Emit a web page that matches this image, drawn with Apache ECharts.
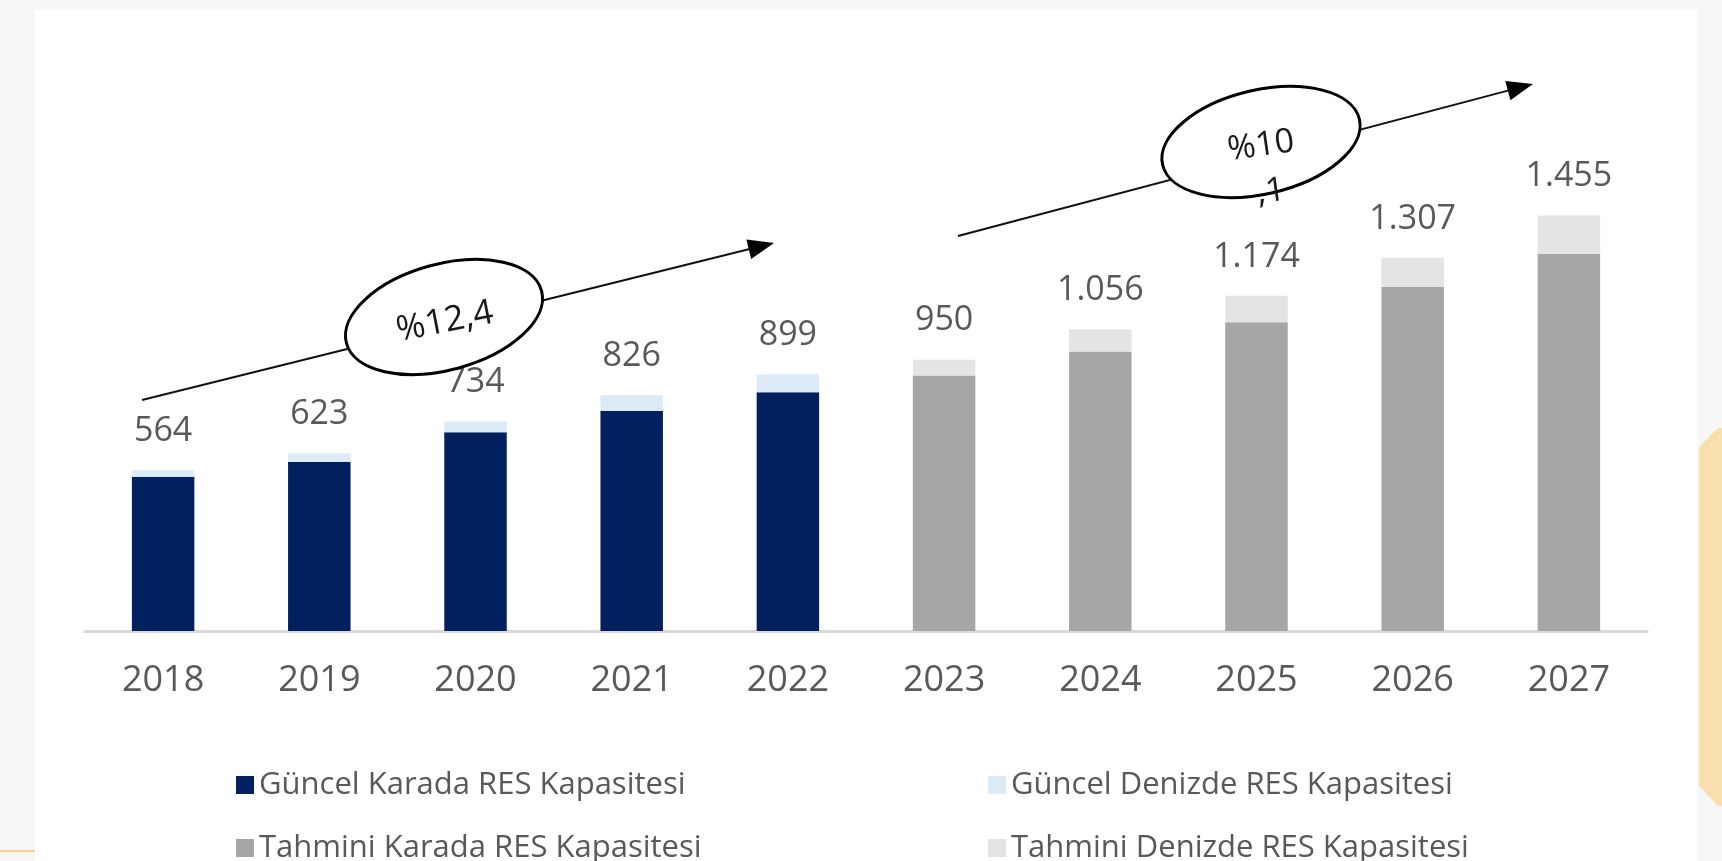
<!DOCTYPE html>
<html>
<head>
<meta charset="utf-8">
<style>
  html, body { margin: 0; padding: 0; background: #f7f7f7; }
  #chart { width: 1722px; height: 861px; }
</style>
<script src="https://cdn.jsdelivr.net/npm/echarts@6/dist/echarts.min.js"></script>
</head>
<body>
<div id="chart"></div>
<script>
// ---- data ----
const years = ['2018', '2019', '2020', '2021', '2022', '2023', '2024', '2025', '2026', '2027'];
const guncelKarada   = [540, 592, 696, 771, 836, null, null, null, null, null];
const guncelDenizde  = [24, 31, 38, 55, 63, null, null, null, null, null];
const tahminiKarada  = [null, null, null, null, null, 895, 979, 1081, 1205, 1321];
const tahminiDenizde = [null, null, null, null, null, 55, 77, 93, 102, 134];
const seriesNames = ['Güncel Karada RES Kapasitesi', 'Güncel Denizde RES Kapasitesi',
                     'Tahmini Karada RES Kapasitesi', 'Tahmini Denizde RES Kapasitesi'];
const cagrLabels = ['%12,4', '%10', ',1'];

// ---- helpers ----
function fmtTR(v) {
  const s = String(Math.round(v));
  return s.replace(/\B(?=(\d{3})+(?!\d))/g, '.');
}
const FONT = '"Open Sans", "Liberation Sans", sans-serif';
const TXT = '#595959';

function arrow(x1, y1, x2, y2) {
  const dx = x2 - x1, dy = y2 - y1, L = Math.sqrt(dx * dx + dy * dy);
  const ux = dx / L, uy = dy / L, px = -uy, py = ux;
  const len = 26, hw = 10;
  const bx = x2 - ux * len, by = y2 - uy * len;
  return [
    { type: 'line', z: 50, shape: { x1: x1, y1: y1, x2: bx + ux * 2, y2: by + uy * 2 },
      style: { stroke: '#111', lineWidth: 2 } },
    { type: 'polygon', z: 50, shape: { points: [[x2, y2], [bx + px * hw, by + py * hw], [bx - px * hw, by - py * hw]] },
      style: { fill: '#000' } }
  ];
}
function ellipse(cx, cy, rx, ry, deg) {
  return { type: 'ellipse', z: 60, x: cx, y: cy, rotation: deg * Math.PI / 180,
    shape: { cx: 0, cy: 0, rx: rx, ry: ry },
    style: { fill: '#fff', stroke: '#000', lineWidth: 3 } };
}
function note(text, x, y, deg, size) {
  return { type: 'text', z: 70, x: x, y: y, rotation: deg * Math.PI / 180,
    style: { text: text, fill: '#1a1a1a', font: size + 'px ' + FONT, align: 'center', verticalAlign: 'middle' } };
}

const chart = echarts.init(document.getElementById('chart'));

function totalLabel(karada, denizde) {
  return {
    show: true, position: 'top', distance: 22,
    color: TXT, fontFamily: FONT, fontSize: 34,
    formatter: function (p) {
      const i = p.dataIndex;
      return fmtTR((karada[i] || 0) + (denizde[i] || 0));
    }
  };
}

const legendPos = [[231, 762], [983, 762], [231, 825], [983, 825]];

const option = {
  backgroundColor: '#f7f7f7',
  animation: false,
  grid: { left: 85, right: 75, top: 60, bottom: 230 },
  xAxis: {
    type: 'category', data: years,
    axisLine: { lineStyle: { color: '#d9d9d9', width: 3 } },
    axisTick: { show: false },
    axisLabel: { color: TXT, fontFamily: FONT, fontSize: 36, margin: 32 }
  },
  yAxis: { type: 'value', min: 0, max: 2000, show: false, splitLine: { show: false } },
  legend: seriesNames.map(function (n, k) {
    return {
      data: [n], left: legendPos[k][0], top: legendPos[k][1],
      icon: 'rect', itemWidth: 18, itemHeight: 18, itemGap: 6,
      textStyle: { color: TXT, fontFamily: FONT, fontSize: 31, lineHeight: 36 },
      selectedMode: false
    };
  }),
  series: [
    { name: seriesNames[0], type: 'bar', stack: 'total', barWidth: '40%', data: guncelKarada,
      itemStyle: { color: '#002060' } },
    { name: seriesNames[1], type: 'bar', stack: 'total', data: guncelDenizde,
      itemStyle: { color: '#ddebf7' }, label: totalLabel(guncelKarada, guncelDenizde) },
    { name: seriesNames[2], type: 'bar', stack: 'total', data: tahminiKarada,
      itemStyle: { color: '#a6a6a6' } },
    { name: seriesNames[3], type: 'bar', stack: 'total', data: tahminiDenizde,
      itemStyle: { color: '#e4e4e4' }, label: totalLabel(tahminiKarada, tahminiDenizde) }
  ],
  graphic: [].concat(
    [
      { type: 'rect', z: -10, silent: true, shape: { x: 35, y: 10, width: 1662, height: 860 }, style: { fill: '#ffffff' } },
      { type: 'polygon', z: -10, silent: true,
        shape: { points: [[1699, 447], [1718, 428], [1722, 428], [1722, 806], [1718, 806], [1699, 786]] },
        style: { fill: '#f7e0ad' } },
      { type: 'line', z: -10, silent: true, shape: { x1: 0, y1: 851, x2: 35, y2: 851 },
        style: { stroke: '#f5d08e', lineWidth: 2 } }
    ],
    arrow(142, 400, 774, 243),
    arrow(958, 236, 1533, 84),
    [
      ellipse(444, 317, 101, 53, 15),
      note(cagrLabels[0], 445, 322, 11, 35),
      ellipse(1261, 142, 101, 52, 13),
      note(cagrLabels[1], 1261, 146, 8, 34),
      note(cagrLabels[2], 1271, 192, 8, 34)
    ]
  )
};
chart.setOption(option);
</script>
</body>
</html>
